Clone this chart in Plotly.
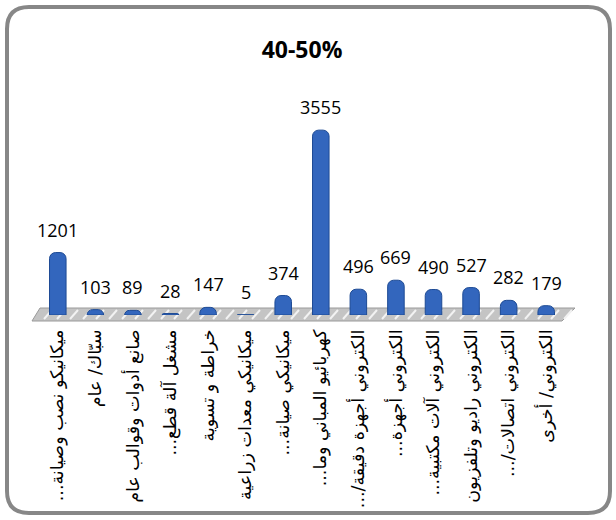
import plotly.graph_objects as go

categories = [
    "ميكانيكو نصب وصيانة...",
    "سبّاك/ عام",
    "صانع أدوات وقوالب عام",
    "مشغل آلة قطع...",
    "خراطة و تسوية",
    "ميكانيكي معدات زراعية",
    "ميكانيكي صيانة...",
    "كهربائيو المباني وما...",
    "الكتروني أجهزة دقيقة/...",
    "الكتروني أجهزة...",
    "الكتروني آلات مكتبية...",
    "الكتروني راديو وتلفزيون",
    "الكتروني اتصالات/...",
    "الكتروني/ أخرى",
]
values = [1201, 103, 89, 28, 147, 5, 374, 3555, 496, 669, 490, 527, 282, 179]
title_text = "40-50%"

W, H = 616, 520
L, R, T, B = 39, 51, 107, 205
PW, PH = W - L - R, H - T - B


def px(x):
    return (x - L) / PW


def py(y):
    return (H - B - y) / PH


# force right-to-left rendering of the tick labels
tick_text = ["\u202b" + c + "\u202c" for c in categories]
xs = list(range(len(categories)))

fig = go.Figure()
fig.add_trace(go.Bar(
    x=xs,
    y=values,
    cliponaxis=False,
    marker=dict(color="#3366bd", line=dict(color="#1d4a94", width=1), cornerradius=6),
    width=0.44,
))

annotations = [
    dict(x=x, y=v, xref="x", yref="y", text=str(v), showarrow=False,
         yanchor="middle", yshift=23,
         font=dict(family="Open Sans, Liberation Sans, sans-serif", size=18, color="#000"))
    for x, v in zip(xs, values)
]

shapes = []
# floor platform
floor = [(40, 308), (575, 308), (562, 321), (32, 321)]
path = "M " + " L ".join(f"{px(a)},{py(b)}" for a, b in floor) + " Z"
shapes.append(dict(type="path", xref="paper", yref="paper", path=path,
                   fillcolor="#c4c4c4", line=dict(color="#9a9a9a", width=1), layer="below"))
# diagonal stripes on floor
sx = 44
while sx < 566:
    shapes.append(dict(type="line", xref="paper", yref="paper",
                       x0=px(sx), y0=py(319), x1=px(sx + 8), y1=py(310),
                       line=dict(color="#f2f2f2", width=2), layer="below"))
    sx += 13
# rounded frame
x0, y0, x1, y1, r = 7, 7, 610, 513, 22
fp = (f"M {px(x0 + r)},{py(y0)} L {px(x1 - r)},{py(y0)} "
      f"Q {px(x1)},{py(y0)} {px(x1)},{py(y0 + r)} "
      f"L {px(x1)},{py(y1 - r)} Q {px(x1)},{py(y1)} {px(x1 - r)},{py(y1)} "
      f"L {px(x0 + r)},{py(y1)} Q {px(x0)},{py(y1)} {px(x0)},{py(y1 - r)} "
      f"L {px(x0)},{py(y0 + r)} Q {px(x0)},{py(y0)} {px(x0 + r)},{py(y0)} Z")
shapes.append(dict(type="path", xref="paper", yref="paper", path=fp,
                   line=dict(color="#878787", width=4), layer="above"))

fig.update_layout(
    width=W, height=H,
    margin=dict(l=L, r=R, t=T, b=B),
    paper_bgcolor="white", plot_bgcolor="rgba(0,0,0,0)",
    showlegend=False,
    title=dict(text="<b>" + title_text + "</b>", x=0.5, xref="paper", xanchor="center",
               y=1 - 50 / H, yanchor="middle",
               font=dict(family="Open Sans, Liberation Sans, sans-serif", size=23, color="#000")),
    xaxis=dict(tickmode="array", tickvals=xs, ticktext=tick_text,
               tickangle=-90, range=[-0.5, len(categories) - 0.5],
               showline=False, showgrid=False, zeroline=False, ticks="",
               ticklabelstandoff=10,
               tickfont=dict(family="DejaVu Sans, sans-serif", size=17.5, color="#000")),
    yaxis=dict(range=[0, 4000], visible=False),
    shapes=shapes,
    annotations=annotations,
)

fig.write_html("out.html", config={"displayModeBar": False},
               post_script="document.body.style.margin='0';")
